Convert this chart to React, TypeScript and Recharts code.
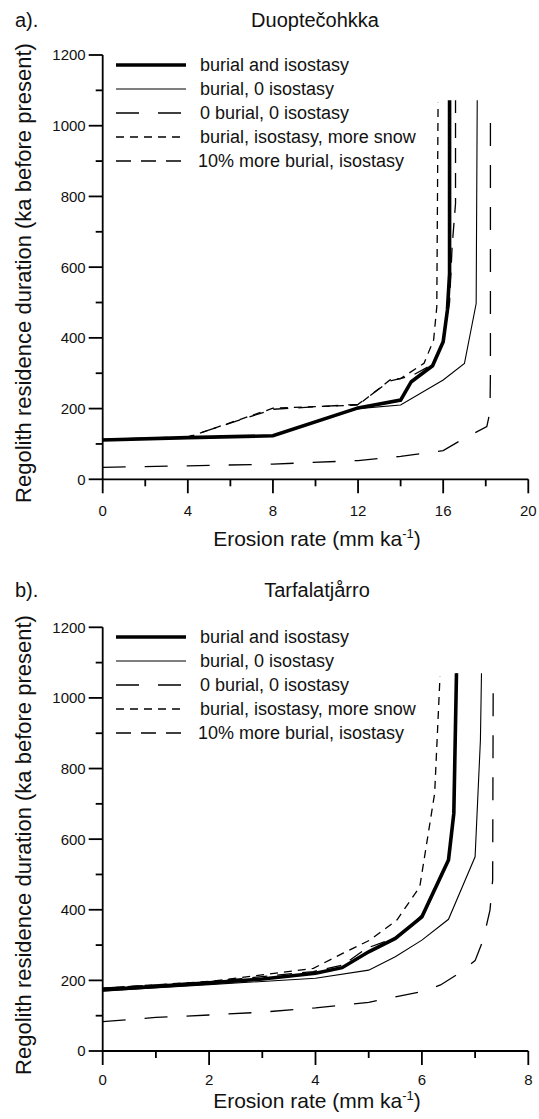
import { LineChart, Line, XAxis, YAxis, Legend } from 'recharts'

const FONT = '"Liberation Sans", Arial, Helvetica, sans-serif'

const seriesNames = [
  'burial and isostasy',
  'burial, 0 isostasy',
  '0 burial, 0 isostasy',
  'burial, isostasy, more snow',
  '10% more burial, isostasy',
]

// a) Duoptečohkka
const duoThickX = [0, 4, 8, 12, 14, 14.5, 15.5, 16, 16.2, 16.3, 16.3]
const duoThickY = [111, 118, 123, 202, 224, 276, 321, 389, 479, 582, 1072]
const duoThinX = [0, 4, 8, 12, 14, 16, 17, 17.55, 17.6]
const duoThinY = [110, 117, 122, 200, 210, 281, 328, 497, 1072]
const duoNoBurialX = [0, 4, 8, 12, 14, 16, 16.7, 18.05, 18.2, 18.22, 18.22]
const duoNoBurialY = [34, 38, 43, 53, 65, 81, 106, 149, 191, 300, 1016]
const duoSnowX = [0, 4, 8, 12, 13.5, 14, 15.1, 15.55, 15.7, 15.76]
const duoSnowY = [112, 119, 201, 210, 281, 285, 328, 394, 488, 1065]
const duoMoreBurialX = [0, 4, 8, 12, 13.5, 14.5, 15.5, 16, 16.3, 16.42, 16.58, 16.58]
const duoMoreBurialY = [113, 120, 198, 212, 278, 292, 325, 392, 500, 658, 780, 1072]

// b) Tarfalatjårro
const tarThickX = [0, 1, 2, 3, 4, 4.5, 5, 5.5, 6, 6.5, 6.6, 6.65]
const tarThickY = [173, 183, 193, 204, 220, 236, 281, 319, 380, 541, 673, 1070]
const tarThinX = [0, 2, 4, 5, 5.5, 6, 6.5, 7, 7.1, 7.12]
const tarThinY = [170, 188, 206, 229, 267, 314, 373, 550, 881, 1070]
const tarNoBurialX = [0, 1, 2, 3, 4, 5, 6, 6.35, 6.7, 7.0, 7.15, 7.28, 7.33, 7.34]
const tarNoBurialY = [83, 95, 102, 110, 122, 138, 168, 187, 220, 256, 314, 399, 484, 1032]
const tarSnowX = [0, 2, 3.96, 4.52, 5.02, 5.53, 5.96, 6.24, 6.34]
const tarSnowY = [178, 197, 234, 277, 314, 371, 465, 730, 1060]
const tarMoreBurialX = [0, 2, 3.96, 4.52, 4.96, 5.53, 5.9, 6.0, 6.5, 6.6, 6.65]
const tarMoreBurialY = [178, 196, 225, 244, 291, 322, 371, 385, 545, 680, 1070]

const yTicks = [0, 100, 200, 300, 400, 500, 600, 700, 800, 900, 1000, 1100, 1200]
const yLabeled = [0, 200, 400, 600, 800, 1000, 1200]
const duoXTicks = [0, 2, 4, 6, 8, 10, 12, 14, 16, 18, 20]
const duoXLabeled = [0, 4, 8, 12, 16, 20]
const tarXTicks = [0, 1, 2, 3, 4, 5, 6, 7, 8]
const tarXLabeled = [0, 2, 4, 6, 8]

// stroke per series, same order as seriesNames
const lineStyles = [
  { width: 3.6, dash: undefined },
  { width: 1.1, dash: undefined },
  { width: 1.3, dash: '23 19' },
  { width: 1.3, dash: '8 6' },
  { width: 1.3, dash: '15 10' },
]
const drawOrder = [2, 4, 3, 1, 0]

const zip = (xs: number[], ys: number[]) => xs.map((x, i) => ({ x, y: ys[i] }))

const duoSeries = [
  zip(duoThickX, duoThickY),
  zip(duoThinX, duoThinY),
  zip(duoNoBurialX, duoNoBurialY),
  zip(duoSnowX, duoSnowY),
  zip(duoMoreBurialX, duoMoreBurialY),
]
const tarSeries = [
  zip(tarThickX, tarThickY),
  zip(tarThinX, tarThinY),
  zip(tarNoBurialX, tarNoBurialY),
  zip(tarSnowX, tarSnowY),
  zip(tarMoreBurialX, tarMoreBurialY),
]

const W = 539
const PLOT_LEFT = 102.7
const PLOT_RIGHT = 528.3

function XTick(props: any) {
  const { x, y, payload, labeled, labelDy } = props
  const major = labeled.includes(payload.value)
  return (
    <g>
      <line x1={x} x2={x} y1={y} y2={y + (major ? 14 : 7)} stroke="#000" strokeWidth={1.8} />
      {major && (
        <text x={x} y={y + labelDy} textAnchor="middle" fontSize={15} fontFamily={FONT} fill="#111">
          {payload.value}
        </text>
      )}
    </g>
  )
}

function YTick(props: any) {
  const { x, y, payload, labeled } = props
  const major = labeled.includes(payload.value)
  return (
    <g>
      <line x1={x} x2={x - (major ? 14 : 7)} y1={y} y2={y} stroke="#000" strokeWidth={1.8} />
      {major && (
        <text x={x - 17} y={y + 5.4} textAnchor="end" fontSize={15} fontFamily={FONT} fill="#111">
          {payload.value}
        </text>
      )}
    </g>
  )
}

function XTitle({ cy }: { cy: number }) {
  return (
    <text x={317} y={cy} textAnchor="middle" fontSize={21} fontFamily={FONT} fill="#111">
      Erosion rate (mm ka
      <tspan dy={-8} fontSize={13}>-1</tspan>
      <tspan dy={8}>)</tspan>
    </text>
  )
}

function YTitle({ cy }: { cy: number }) {
  return (
    <text x={31} y={cy} transform={`rotate(-90, 31, ${cy})`} textAnchor="middle" fontSize={22} fontFamily={FONT} fill="#111">
      Regolith residence duration (ka before present)
    </text>
  )
}

function LegendBox() {
  return (
    <svg width={340} height={130} style={{ display: 'block' }}>
      {seriesNames.map((name, i) => {
        const ly = 14 + 24 * i
        const s = lineStyles[i]
        return (
          <g key={name}>
            <line x1={8} x2={78} y1={ly} y2={ly} stroke="#000" strokeWidth={s.width} strokeDasharray={s.dash} />
            <text x={i === 4 ? 90 : 92} y={ly + 6} fontSize={18} fontFamily={FONT} fill="#111">{name}</text>
          </g>
        )
      })}
    </svg>
  )
}

interface PanelProps {
  tag: string
  title: string
  series: { x: number; y: number }[][]
  xTicks: number[]
  xLabeled: number[]
  xMax: number
  top: number
  height: number
  plotTop: number
  plotBottom: number
  tickDy: number
  xTitleY: number
  yTitleY: number
  titleX: number
}

function Panel(p: PanelProps) {
  const axisH = 30
  const yAxisW = 60
  return (
    <div style={{ position: 'absolute', left: 0, top: p.top, width: W, height: p.height, fontFamily: FONT }}>
      <div style={{ position: 'absolute', left: 15, top: 10, fontSize: 20, lineHeight: '20px', color: '#111' }}>{p.tag}</div>
      <div style={{ position: 'absolute', left: p.titleX - 150, top: 10, width: 300, textAlign: 'center', fontSize: 20, lineHeight: '20px', color: '#111' }}>
        {p.title}
      </div>
      <LineChart
        width={W}
        height={p.height}
        margin={{ top: p.plotTop, right: W - PLOT_RIGHT, bottom: p.height - p.plotBottom - axisH, left: PLOT_LEFT - yAxisW }}
        style={{ position: 'absolute', left: 0, top: 0 }}
      >
        <XAxis
          type="number"
          dataKey="x"
          domain={[0, p.xMax]}
          ticks={p.xTicks}
          interval={0}
          height={axisH}
          tickSize={0}
          tickMargin={0}
          tickLine={false}
          axisLine={{ stroke: '#000', strokeWidth: 1.8 }}
          tick={<XTick labeled={p.xLabeled} labelDy={p.tickDy} />}
          label={<XTitle cy={p.xTitleY} />}
        />
        <YAxis
          type="number"
          domain={[0, 1200]}
          ticks={yTicks}
          interval={0}
          width={yAxisW}
          tickSize={0}
          tickMargin={0}
          tickLine={false}
          axisLine={{ stroke: '#000', strokeWidth: 1.8 }}
          tick={<YTick labeled={yLabeled} />}
          label={<YTitle cy={p.yTitleY} />}
        />
        <Legend
          layout="vertical"
          align="center"
          verticalAlign="middle"
          wrapperStyle={{ left: 108, top: p.plotTop - 4, width: 340, height: 130 }}
          content={() => <LegendBox />}
        />
        {drawOrder.map((i) => (
          <Line
            key={seriesNames[i]}
            name={seriesNames[i]}
            data={p.series[i]}
            dataKey="y"
            type="linear"
            stroke="#000"
            strokeWidth={lineStyles[i].width}
            strokeDasharray={lineStyles[i].dash}
            dot={false}
            activeDot={false}
            isAnimationActive={false}
          />
        ))}
      </LineChart>
    </div>
  )
}

export default function App() {
  return (
    <div style={{ position: 'absolute', left: 0, top: 0, width: W, height: 1119, background: '#fff' }}>
      <Panel
        tag="a)."
        title="Duoptečohkka"
        series={duoSeries}
        xTicks={duoXTicks}
        xLabeled={duoXLabeled}
        xMax={20}
        top={0}
        height={570}
        plotTop={55}
        plotBottom={479.3}
        tickDy={36.5}
        xTitleY={546}
        yTitleY={273}
        titleX={315}
      />
      <Panel
        tag="b)."
        title="Tarfalatjårro"
        series={tarSeries}
        xTicks={tarXTicks}
        xLabeled={tarXLabeled}
        xMax={8}
        top={570}
        height={549}
        plotTop={57.3}
        plotBottom={481}
        tickDy={33.5}
        xTitleY={538}
        yTitleY={275}
        titleX={317}
      />
    </div>
  )
}
